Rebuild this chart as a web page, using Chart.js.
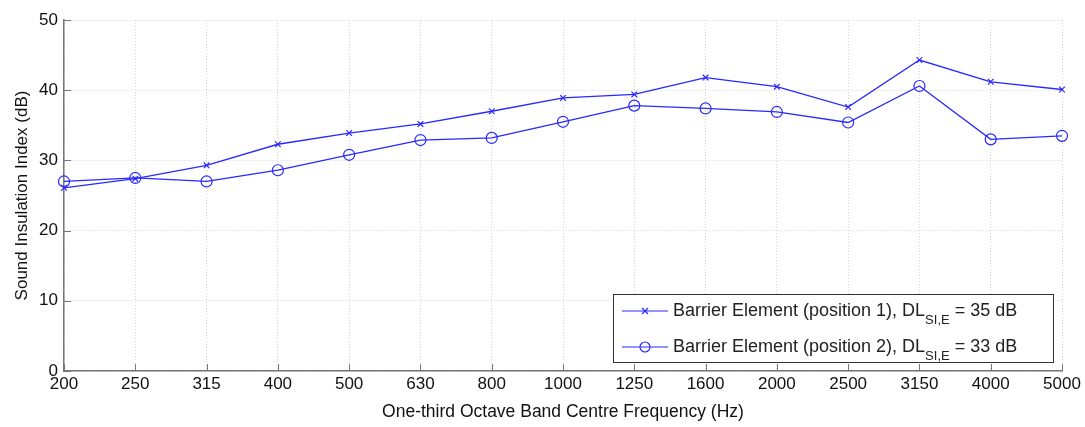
<!DOCTYPE html>
<html>
<head>
<meta charset="utf-8">
<script src="https://cdn.jsdelivr.net/npm/chart.js@4.4.1/dist/chart.umd.min.js"></script>
<style>
  html, body { margin: 0; padding: 0; background: #fff; }
  #wrap { width: 1085px; height: 427px; position: relative; }
</style>
</head>
<body>
<div id="wrap"><canvas id="chart" width="1085" height="427"></canvas></div>
<script>
// Frequency bands (Hz)
const bands = ["200","250","315","400","500","630","800","1000","1250","1600","2000","2500","3150","4000","5000"];
// Sound insulation index (dB)
const position1 = [26.1,27.4,29.3,32.3,33.9,35.2,37.0,38.9,39.4,41.8,40.5,37.6,44.3,41.2,40.1];
const position2 = [27.0,27.5,27.0,28.6,30.8,32.9,33.2,35.5,37.8,37.4,36.9,35.4,40.6,33.0,33.5];
const yTicks = [0,10,20,30,40,50];

const legendRows = [
  { main: "Barrier Element (position 1), DL", sub: "SI,E", tail: " = 35 dB", marker: "x" },
  { main: "Barrier Element (position 2), DL", sub: "SI,E", tail: " = 33 dB", marker: "o" }
];

const blue = "rgb(40,40,255)";
const font = "'Liberation Sans', Arial, sans-serif";

// inward tick marks like matlab + the boxed legend with subscripts
const extras = {
  id: "extras",
  afterDraw(chart) {
    const ctx = chart.ctx;
    const xs = chart.scales.x, ys = chart.scales.y;
    const area = chart.chartArea;
    ctx.save();
    ctx.strokeStyle = "#777";
    ctx.lineWidth = 1;
    xs.ticks.forEach((t, i) => {
      const px = Math.round(xs.getPixelForTick(i)) + 0.5;
      ctx.beginPath();
      ctx.moveTo(px, area.bottom);
      ctx.lineTo(px, area.bottom - 7);
      ctx.stroke();
    });
    ys.ticks.forEach((t, i) => {
      const py = Math.round(ys.getPixelForTick(i)) + 0.5;
      ctx.beginPath();
      ctx.moveTo(area.left, py);
      ctx.lineTo(area.left + 7, py);
      ctx.stroke();
    });

    // legend box
    const bx = 613, by = 294, bw = 440, bh = 68;
    ctx.fillStyle = "#fff";
    ctx.fillRect(bx, by, bw, bh);
    ctx.strokeStyle = "#333";
    ctx.strokeRect(bx + 0.5, by + 0.5, bw, bh);
    legendRows.forEach((row, i) => {
      const y = by + 17 + i * 36;
      ctx.strokeStyle = blue;
      ctx.lineWidth = 1.2;
      ctx.beginPath();
      ctx.moveTo(bx + 9, y);
      ctx.lineTo(bx + 55, y);
      ctx.stroke();
      const mx = bx + 32;
      ctx.beginPath();
      if (row.marker === "x") {
        ctx.moveTo(mx - 3, y - 3); ctx.lineTo(mx + 3, y + 3);
        ctx.moveTo(mx + 3, y - 3); ctx.lineTo(mx - 3, y + 3);
      } else {
        ctx.arc(mx, y, 5, 0, Math.PI * 2);
      }
      ctx.stroke();
      ctx.fillStyle = "#222";
      ctx.textBaseline = "middle";
      ctx.textAlign = "left";
      ctx.font = "18px " + font;
      let tx = bx + 60;
      ctx.fillText(row.main, tx, y);
      tx += ctx.measureText(row.main).width;
      ctx.font = "13px " + font;
      ctx.fillText(row.sub, tx, y + 9);
      tx += ctx.measureText(row.sub).width;
      ctx.font = "18px " + font;
      ctx.fillText(row.tail, tx, y);
    });
    ctx.restore();
  }
};

new Chart(document.getElementById("chart"), {
  type: "line",
  data: {
    labels: bands,
    datasets: [
      {
        label: "position 1",
        data: position1,
        borderColor: blue,
        backgroundColor: "transparent",
        borderWidth: 1.3,
        pointStyle: "crossRot",
        pointRadius: 4,
        pointBorderWidth: 1.2,
        pointBorderColor: blue,
        tension: 0
      },
      {
        label: "position 2",
        data: position2,
        borderColor: blue,
        backgroundColor: "transparent",
        borderWidth: 1.3,
        pointStyle: "circle",
        pointRadius: 5.5,
        pointBorderWidth: 1.2,
        pointBorderColor: blue,
        pointBackgroundColor: "transparent",
        tension: 0
      }
    ]
  },
  options: {
    responsive: false,
    animation: false,
    layout: { padding: { top: 20, right: 23, left: 0, bottom: 0 } },
    plugins: {
      legend: { display: false },
      tooltip: { enabled: false }
    },
    scales: {
      x: {
        offset: false,
        grid: { color: "#d6d6d6", tickLength: 0, lineWidth: 1 },
        border: { color: "#777", width: 1.5, dash: [1, 2] },
        ticks: { color: "#111", font: { family: font, size: 17 }, padding: 3, maxRotation: 0, autoSkip: false },
        title: { display: true, text: "One-third Octave Band Centre Frequency (Hz)", color: "#111", font: { family: font, size: 17.5 }, padding: { top: 5 } },
        afterFit(s) { s.height = 56; }
      },
      y: {
        min: 0,
        max: 50,
        afterBuildTicks(s) { s.ticks = yTicks.map(v => ({ value: v })); },
        grid: { color: "#d6d6d6", tickLength: 0, lineWidth: 1 },
        border: { color: "#777", width: 1.5, dash: [1, 2] },
        ticks: { color: "#111", font: { family: font, size: 17 }, padding: 6 },
        title: { display: true, text: "Sound Insulation Index (dB)", color: "#111", font: { family: font, size: 17 }, padding: { top: 12 } },
        afterFit(s) { s.width = 64; }
      }
    }
  },
  plugins: [extras]
});
</script>
</body>
</html>
